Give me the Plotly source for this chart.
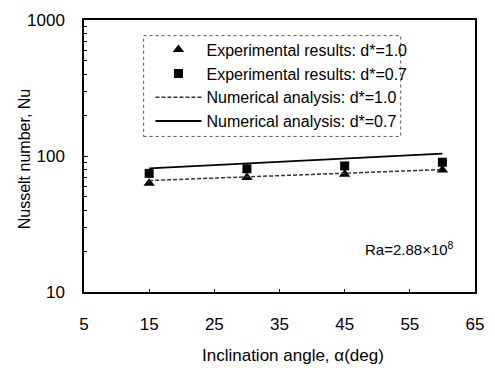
import plotly.graph_objects as go

angles = [15, 30, 45, 60]
exp_d10 = [63.0, 69.5, 73.5, 79.0]
exp_d07 = [74.5, 80.5, 84.5, 90.0]
num_d10 = [66.0, 70.5, 74.5, 79.5]
num_d07 = [81.0, 88.0, 96.0, 104.0]

x_ticks = [5, 15, 25, 35, 45, 55, 65]
y_ticks = [10, 100, 1000]

FONT = "Liberation Sans, Arial, sans-serif"

fig = go.Figure()
fig.add_trace(go.Scatter(x=angles, y=exp_d10, mode="markers", name="Experimental results: d*=1.0",
                         marker=dict(symbol="triangle-up", size=10, color="black"), legendgroup="a"))
fig.add_trace(go.Scatter(x=angles, y=exp_d07, mode="markers", name="Experimental results: d*=0.7",
                         marker=dict(symbol="square", size=9, color="black"), legendgroup="b"))
fig.add_trace(go.Scatter(x=angles, y=num_d10, mode="lines", name="Numerical analysis: d*=1.0",
                         line=dict(color="#333333", width=1.5, dash="4px,2px"), legendgroup="c"))
fig.add_trace(go.Scatter(x=angles, y=num_d07, mode="lines", name="Numerical analysis: d*=0.7",
                         line=dict(color="black", width=1.8), legendgroup="d"))

L, R, T, B = 84, 11, 14, 76
W, H = 495, 368
pw, ph = W - L - R, H - T - B

def px(xp):
    return (xp - L) / pw

def py(yp):
    return 1 - (yp - T) / ph

fig.update_layout(
    width=W, height=H,
    margin=dict(l=L, r=R, t=T, b=B, pad=0),
    paper_bgcolor="white", plot_bgcolor="white",
    font=dict(family=FONT, color="black"),
    showlegend=True,
    legend=dict(x=px(152), y=py(27), xanchor="left", yanchor="top",
                bgcolor="rgba(0,0,0,0)", borderwidth=0,
                font=dict(size=16, family=FONT, color="black"),
                itemwidth=46, tracegroupgap=0),
    xaxis=dict(range=[5, 65], tickvals=x_ticks, ticktext=[str(v) for v in x_ticks],
               showgrid=False, zeroline=False, showline=True, linecolor="black", linewidth=1.5,
               mirror=True, ticks="inside", ticklen=3, tickcolor="black",
               tickfont=dict(size=17, family=FONT), ticklabelstandoff=16),
    yaxis=dict(type="log", range=[1, 3], tickvals=y_ticks, ticktext=[str(v) for v in y_ticks],
               showgrid=False, zeroline=False, showline=True, linecolor="black", linewidth=1.5,
               mirror=True, ticks="inside", ticklen=4, tickcolor="black",
               minor=dict(ticks="inside", ticklen=3, dtick="D1", tickcolor="black", showgrid=False),
               tickfont=dict(size=17, family=FONT), ticklabelstandoff=14),
    shapes=[dict(type="rect", xref="paper", yref="paper",
                 x0=px(145), x1=px(408), y0=py(133), y1=py(30),
                 line=dict(color="#555555", width=1, dash="dot"))],
    annotations=[
        dict(text="Inclination angle, α(deg)", xref="paper", yref="paper",
             x=px(298), y=py(357), xanchor="center", yanchor="middle", showarrow=False,
             font=dict(size=17, family=FONT)),
        dict(text="Nusselt number, Nu", xref="paper", yref="paper",
             x=px(24), y=py(156), xanchor="center", yanchor="middle", showarrow=False,
             textangle=-90, font=dict(size=16, family=FONT)),
        dict(text="Ra=2.88×10<sup>8</sup>", xref="paper", yref="paper",
             x=px(369), y=py(248), xanchor="left", yanchor="middle", showarrow=False,
             font=dict(size=15, family=FONT)),
    ],
)

fig.write_html("out.html")
